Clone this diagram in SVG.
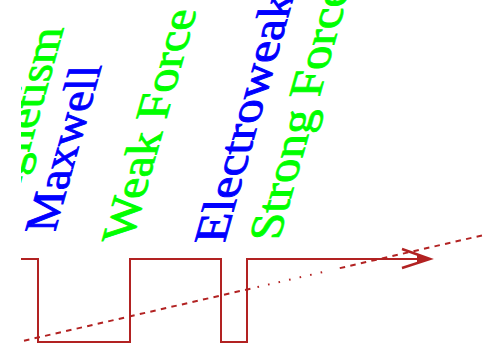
<svg xmlns="http://www.w3.org/2000/svg" width="492" height="348" viewBox="0 0 492 348">
<defs>
<clipPath id="frame"><rect x="21" y="0" width="471" height="348"/></clipPath>
</defs>
<style>
.lbl{font-family:"Liberation Serif","Times New Roman",serif;font-size:46px;stroke-width:0.9}
.b{fill:#0000ff;stroke:#0000ff}
.g{fill:#00ff00;stroke:#00ff00}
.wire{fill:none;stroke:#b22222;stroke-width:2}
.dash{fill:none;stroke:#b22222;stroke-width:2;stroke-dasharray:5.5 5.3 5.5 5.3 5.5 5.3 5.5 5.3 5.5 5.3 5.5 5.3 5.5 5.3 5.5 5.3 5.5 5.3 5.5 5.3 5.5 5.3 5.5 5.3 5.5 5.3 5.5 5.3 5.5 5.3 5.5 5.3 5.5 5.3 5.5 5.3 5.5 5.3 5.5 5.3 5.5 5.3 5.5 7.25 1.6 9.2 1.6 9.2 1.6 9.2 1.6 9.2 1.6 9.2 1.6 9.2 1.6 18.05 5.5 5.3 5.5 5.3 5.5 5.3 5.5 5.3 5.5 5.3 5.5 5.3 5.5 5.3 5.5 5.3 5.5 5.3 5.5 5.3 5.5 5.3 5.5 5.3 5.5 5.3 5.5 5.3 5.5 5.3}
</style>
<rect width="492" height="348" fill="#ffffff"/>
<g clip-path="url(#frame)">
<g id="connectors">
<path class="wire" d="M21,259 H38 V342 H130 V259 H221 V342 H247 V259 H429"/>
<path d="M402,249 L430,259 L402,268" fill="none" stroke="#b22222" stroke-width="2.5"/>
<path d="M417,254.5 L431,259 L417,263.5 Z" fill="#b22222"/>
<path class="dash" d="M24,340.7 L484,235"/>
</g>
<g id="electromagnetism"><text class="lbl g" transform="matrix(0.287,-1.021,1,0,-32,369)">Electromagnetism</text></g>
<g id="maxwell"><text class="lbl b" transform="matrix(0.287,-1.021,1,0,55,232)">Maxwell</text></g>
<g id="weak-force"><text class="lbl g" transform="matrix(0.287,-1.021,1,0,132,241)" textLength="227" lengthAdjust="spacingAndGlyphs">Weak Force</text></g>
<g id="electroweak"><text class="lbl b" transform="matrix(0.287,-1.021,1,0,224.5,243)" textLength="244" lengthAdjust="spacingAndGlyphs">Electroweak</text></g>
<g id="strong-force"><text class="lbl g" transform="matrix(0.287,-1.021,1,0,279,240)" textLength="249" lengthAdjust="spacingAndGlyphs">Strong Force</text></g>
</g>
</svg>
